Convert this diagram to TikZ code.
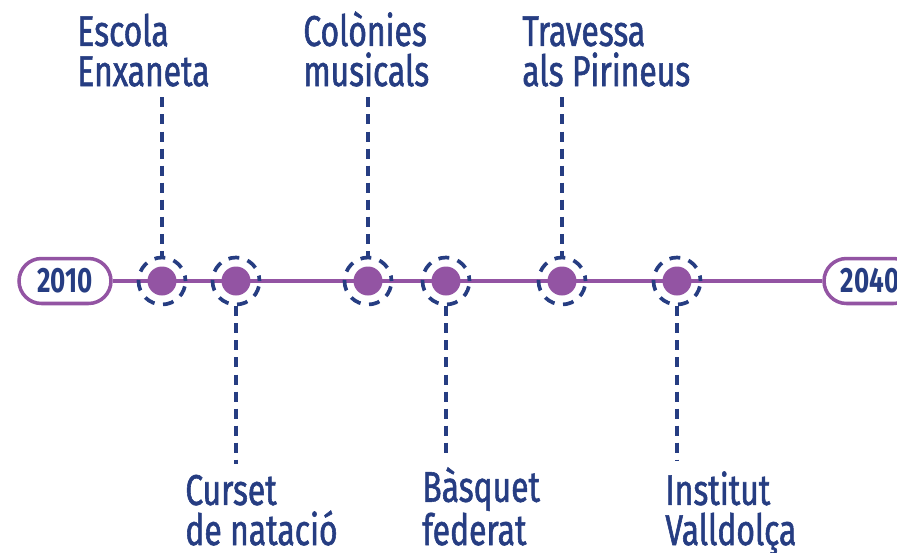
\documentclass[tikz,border=0pt]{standalone}
\usepackage{fontspec}
\newfontfamily\lblfont{Fira Sans}[FakeStretch=0.74]
\newfontfamily\lblfontb{Fira Sans}[FakeStretch=0.74, FakeBold=1.3]
\usetikzlibrary{shapes.misc}

\definecolor{tlblue}{HTML}{263D82}
\definecolor{tlpurple}{HTML}{9354A3}

\tikzset{
  year/.style={rounded rectangle, draw=tlpurple, line width=2pt, fill=white,
    minimum width=1.84cm, minimum height=0.9cm, inner sep=0pt,
    text=tlblue, font=\lblfont\bfseries\fontsize{20}{22}\selectfont},
  ring/.style={circle, draw=tlblue, line width=2.1pt, minimum size=0.94cm, inner sep=0pt,
    dash pattern=on 6.2pt off 4.9pt, dash phase=3.1pt},
  dot/.style={circle, fill=tlpurple, minimum size=0.58cm, inner sep=0pt},
  event/.style={anchor=base west, align=left, inner xsep=0pt, inner ysep=6pt,
    text=tlblue, font=\lblfontb\fontsize{24.5}{22.8}\selectfont},
  leader/.style={draw=tlblue, line width=2.1pt, dash pattern=on 5.7pt off 4pt},
}

\begin{document}
\begin{tikzpicture}[x=0.02cm, y=-0.02cm]
\useasboundingbox (0,0) rectangle (897,552);


\node [year] (y-2010) at (65,281){2010};
\node [year] (y-2040) at (870,281){2040};
\draw [tlpurple, line width=2pt]   (y-2010.east) -- (y-2040.west);



\node [ring] (ev-escola) at (162,281){};
\node [dot] at (ev-escola){};

\node [ring] (ev-curset) at (236,281){};
\node [dot] at (ev-curset){};

\node [ring] (ev-colonies) at (368,281){};
\node [dot] at (ev-colonies){};

\node [ring] (ev-basquet) at (446,281){};
\node [dot] at (ev-basquet){};

\node [ring] (ev-travessa) at (562,281){};
\node [dot] at (ev-travessa){};

\node [ring] (ev-institut) at (677,281){};
\node [dot] at (ev-institut){};



%% above the line
\node [event] (lbl-escola) at (77,86){Escola\\Enxaneta};
\draw [leader]   (lbl-escola.south -| ev-escola) -- (ev-escola.north);

\node [event] (lbl-colonies) at (303,86){Colònies\\musicals};
\draw [leader]   (lbl-colonies.south -| ev-colonies) -- (ev-colonies.north);

\node [event] (lbl-travessa) at (522,86){Travessa\\als Pirineus};
\draw [leader]   (lbl-travessa.south -| ev-travessa) -- (ev-travessa.north);



%% below the line
\node [event] (lbl-curset) at (185,545){Curset\\de natació};
\draw [leader]   (ev-curset.south) -- (ev-curset |- lbl-curset.north);

\node [event] (lbl-basquet) at (422,545){Bàsquet\\federat};
\draw [leader]   (ev-basquet.south) -- (ev-basquet |- lbl-basquet.north);

\node [event] (lbl-institut) at (665,545){Institut\\Valldolça};
\draw [leader]   (ev-institut.south) -- (ev-institut |- lbl-institut.north);


\end{tikzpicture}
\end{document}
